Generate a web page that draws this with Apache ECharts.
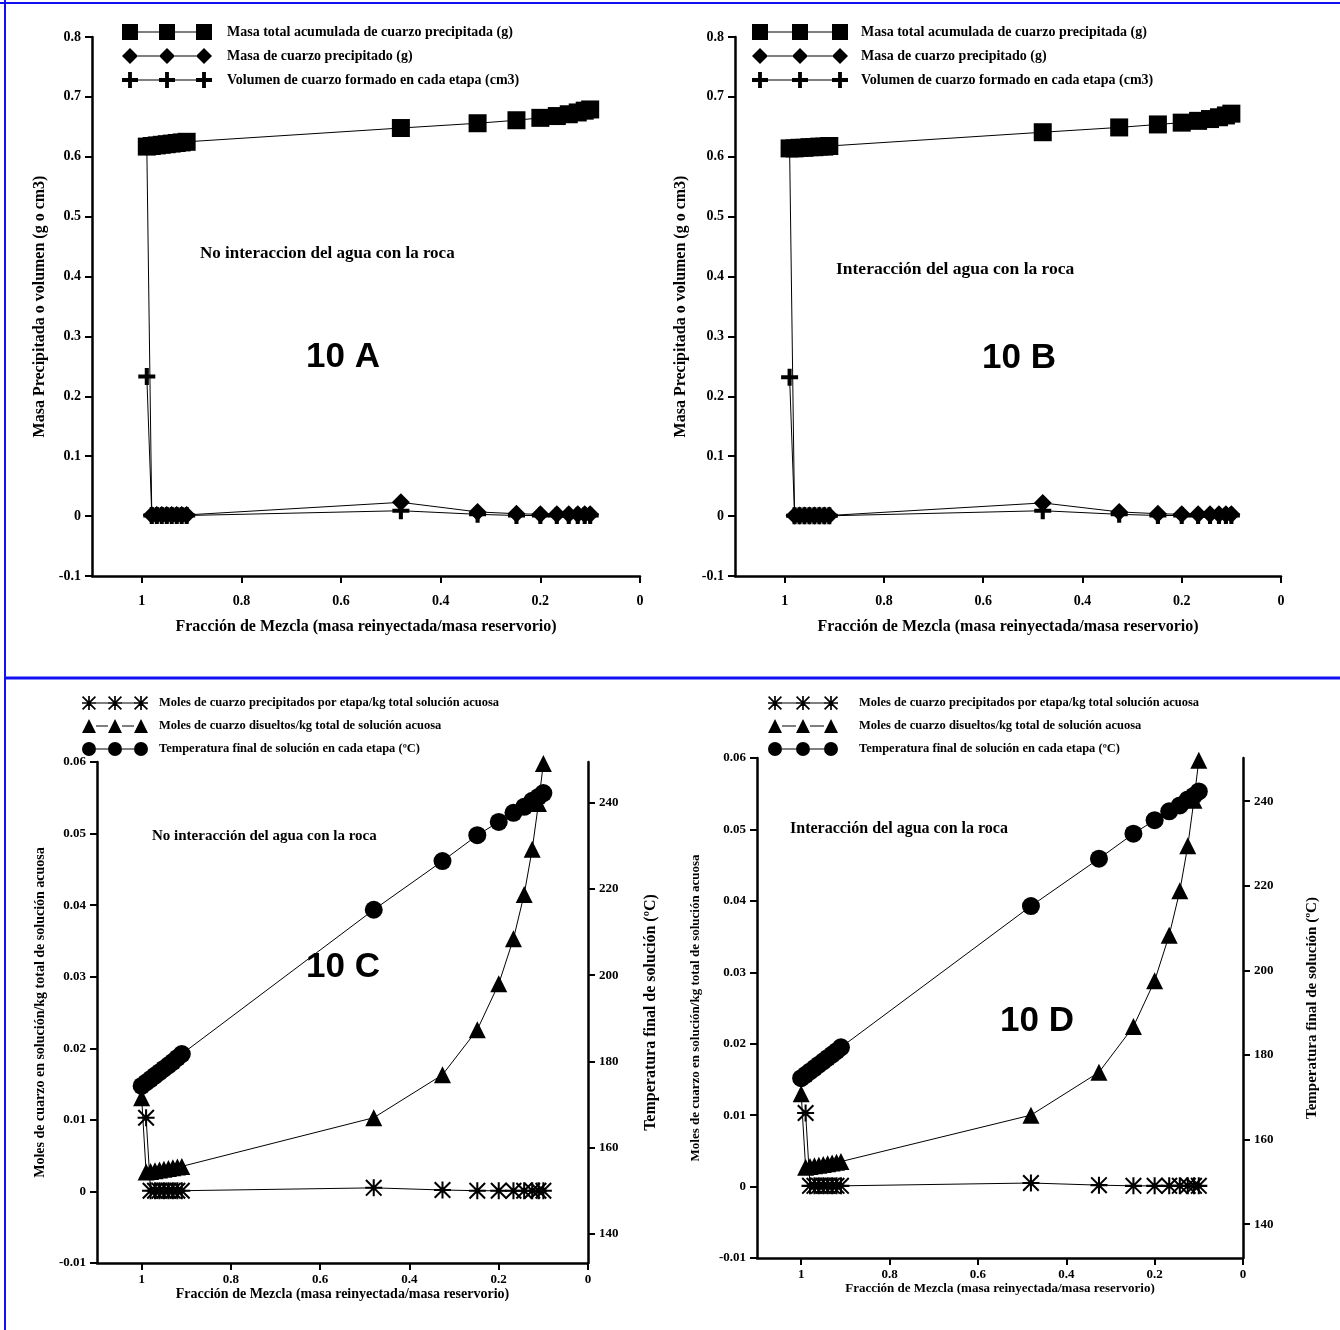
<!DOCTYPE html>
<html>
<head>
<meta charset="utf-8">
<script src="https://cdn.jsdelivr.net/npm/echarts@6/dist/echarts.min.js"></script>
<style>
html, body { margin: 0; padding: 0; background: #fff; }
#main { width: 1340px; height: 1330px; }
</style>
</head>
<body>
<div id="main"></div>
<script>
// fraccion de mezcla (eje x invertido): etapas de precipitacion y etapas con el estado inicial
var fracEtapas = [0.99, 0.98, 0.97, 0.96, 0.95, 0.94, 0.93, 0.92, 0.91, 0.48, 0.326, 0.248, 0.2, 0.167, 0.143, 0.125, 0.111, 0.1];
var fracInicio = [1.0, 0.99, 0.98, 0.97, 0.96, 0.95, 0.94, 0.93, 0.92, 0.91, 0.48, 0.326, 0.248, 0.2, 0.167, 0.143, 0.125, 0.111, 0.1];

// 10 A - no interaccion
var masaTotalA = [0.617, 0.618, 0.619, 0.620, 0.621, 0.622, 0.623, 0.624, 0.625, 0.648, 0.656, 0.661, 0.665, 0.668, 0.671, 0.674, 0.677, 0.679];
var masaEtapaA = [0.617, 0.002, 0.002, 0.002, 0.002, 0.002, 0.002, 0.002, 0.002, 0.023, 0.007, 0.004, 0.003, 0.003, 0.003, 0.003, 0.003, 0.003];
var volumenA   = [0.233, 0.001, 0.001, 0.001, 0.001, 0.001, 0.001, 0.001, 0.001, 0.009, 0.003, 0.001, 0.001, 0.001, 0.001, 0.001, 0.001, 0.001];

// 10 B - interaccion
var masaTotalB = [0.614, 0.614, 0.615, 0.615, 0.616, 0.616, 0.617, 0.617, 0.618, 0.641, 0.649, 0.654, 0.657, 0.660, 0.663, 0.666, 0.669, 0.672];
var masaEtapaB = [0.614, 0.001, 0.001, 0.001, 0.001, 0.001, 0.001, 0.001, 0.001, 0.022, 0.007, 0.004, 0.003, 0.003, 0.003, 0.003, 0.003, 0.003];
var volumenB   = [0.232, 0.0005, 0.0005, 0.0005, 0.0005, 0.0005, 0.0005, 0.0005, 0.0005, 0.009, 0.003, 0.001, 0.001, 0.001, 0.001, 0.001, 0.001, 0.001];

// 10 C - no interaccion
var precipC    = [0.0103, 0.0001, 0.0001, 0.0001, 0.0001, 0.0001, 0.0001, 0.0001, 0.0001, 0.0005, 0.0002, 0.0001, 0.0001, 0.0001, 0.0001, 0.0001, 0.0001, 0.0001];
var disueltosC = [0.0131, 0.0027, 0.0028, 0.0029, 0.0030, 0.0031, 0.0032, 0.0033, 0.0034, 0.0035, 0.0103, 0.0163, 0.0226, 0.0290, 0.0353, 0.0415, 0.0478, 0.0542, 0.0598];
var tempC      = [174.3, 175.1, 175.9, 176.7, 177.5, 178.3, 179.1, 179.9, 180.8, 181.7, 215.2, 226.5, 232.5, 235.6, 237.7, 239.1, 240.5, 241.4, 242.3];

// 10 D - interaccion
var precipD    = [0.0103, 0.0001, 0.0001, 0.0001, 0.0001, 0.0001, 0.0001, 0.0001, 0.0001, 0.0005, 0.0002, 0.0001, 0.0001, 0.0001, 0.0001, 0.0001, 0.0001, 0.0001];
var disueltosD = [0.0130, 0.0027, 0.0028, 0.0029, 0.0030, 0.0031, 0.0032, 0.0033, 0.0034, 0.0035, 0.0100, 0.0160, 0.0224, 0.0288, 0.0352, 0.0414, 0.0477, 0.0541, 0.0597];
var tempD      = [174.5, 175.3, 176.1, 176.9, 177.7, 178.5, 179.3, 180.1, 180.9, 181.8, 215.2, 226.4, 232.3, 235.5, 237.6, 239.0, 240.4, 241.3, 242.3];

var ticksTemp = [140, 160, 180, 200, 220, 240];

var nomTotal = 'Masa total acumulada de cuarzo precipitada (g)';
var nomMasa = 'Masa de cuarzo precipitado (g)';
var nomVol = 'Volumen de cuarzo formado en cada etapa (cm3)';
var nomPrecip = 'Moles de cuarzo precipitados por etapa/kg total solución acuosa';
var nomDis = 'Moles de cuarzo disueltos/kg total de solución acuosa';
var nomTemp = 'Temperatura final de solución en cada etapa (ºC)';
var nomX = 'Fracción de Mezcla (masa reinyectada/masa reservorio)';

var SERIF = '"Liberation Serif", "Times New Roman", serif';
var SANS = '"Liberation Sans", Arial, sans-serif';

// formas para simbolos (centro cx, cy, tamaño s)
var formas = {
	cuadro: function (cx, cy, s) {
		return 'M' + (cx - s / 2) + ' ' + (cy - s / 2) + 'H' + (cx + s / 2) + 'V' + (cy + s / 2) + 'H' + (cx - s / 2) + 'Z';
	},
	rombo: function (cx, cy, s) {
		return 'M' + cx + ' ' + (cy - s / 2) + 'L' + (cx + s / 2) + ' ' + cy + 'L' + cx + ' ' + (cy + s / 2) + 'L' + (cx - s / 2) + ' ' + cy + 'Z';
	},
	cruz: function (cx, cy, s) {
		var h = s / 2, t = s * 0.12;
		return 'M' + (cx - t) + ' ' + (cy - h) + 'H' + (cx + t) + 'V' + (cy - t) + 'H' + (cx + h) + 'V' + (cy + t) + 'H' + (cx + t) +
			'V' + (cy + h) + 'H' + (cx - t) + 'V' + (cy + t) + 'H' + (cx - h) + 'V' + (cy - t) + 'H' + (cx - t) + 'Z';
	},
	triangulo: function (cx, cy, s) {
		return 'M' + cx + ' ' + (cy - s / 2) + 'L' + (cx + s / 2) + ' ' + (cy + s / 2) + 'L' + (cx - s / 2) + ' ' + (cy + s / 2) + 'Z';
	},
	circulo: function (cx, cy, s) {
		var r = s / 2;
		return 'M' + (cx - r) + ' ' + cy + 'A' + r + ' ' + r + ' 0 1 1 ' + (cx + r) + ' ' + cy + 'A' + r + ' ' + r + ' 0 1 1 ' + (cx - r) + ' ' + cy + 'Z';
	},
	asterisco: function (cx, cy, s) {
		var h = s / 2, t = s * 0.06, d = t * 1.4;
		return 'M' + (cx - t) + ' ' + (cy - h) + 'H' + (cx + t) + 'V' + (cy + h) + 'H' + (cx - t) + 'Z' +
			'M' + (cx - h) + ' ' + (cy - t) + 'H' + (cx + h) + 'V' + (cy + t) + 'H' + (cx - h) + 'Z' +
			'M' + (cx - h + d) + ' ' + (cy - h) + 'L' + (cx + h) + ' ' + (cy + h - d) + 'L' + (cx + h - d) + ' ' + (cy + h) + 'L' + (cx - h) + ' ' + (cy - h + d) + 'Z' +
			'M' + (cx + h - d) + ' ' + (cy - h) + 'L' + (cx + h) + ' ' + (cy - h + d) + 'L' + (cx - h + d) + ' ' + (cy + h) + 'L' + (cx - h) + ' ' + (cy + h - d) + 'Z';
	}
};

function simbolo(forma) {
	return 'path://' + formas[forma](10, 10, 20);
}

// icono de leyenda: simbolo - linea - simbolo - linea - simbolo
function iconoLeyenda(forma, w, h) {
	var p = '';
	var xs = [h / 2, w / 2, w - h / 2];
	for (var i = 0; i < 3; i++) {
		p += formas[forma](xs[i], h / 2, h);
		if (i < 2) {
			p += 'M' + (xs[i] + h / 2) + ' ' + (h / 2 - 0.6) + 'H' + (xs[i + 1] - h / 2) + 'V' + (h / 2 + 0.6) + 'H' + (xs[i] + h / 2) + 'Z';
		}
	}
	return 'path://' + p;
}

function leyenda(left, top, items, w, h, gap, fontSize, pad) {
	return {
		orient: 'vertical',
		left: left,
		top: top,
		itemWidth: w,
		itemHeight: h,
		itemGap: gap,
		selectedMode: false,
		padding: 0,
		textStyle: { fontFamily: SERIF, fontWeight: 'bold', fontSize: fontSize, color: '#000', padding: [0, 0, 0, pad] },
		data: items.map(function (it) {
			return { name: it[0], icon: iconoLeyenda(it[1], w, h) };
		})
	};
}

function serie(name, xs, ys, forma, size, xi, yi) {
	return {
		type: 'line',
		name: name,
		xAxisIndex: xi,
		yAxisIndex: yi,
		data: xs.map(function (x, i) { return [x, ys[i]]; }),
		symbol: simbolo(forma),
		symbolSize: size,
		lineStyle: { color: '#000', width: 1 },
		itemStyle: { color: '#000' },
		emphasis: { disabled: true },
		silent: true
	};
}

var lineaEje = { show: true, onZero: false, lineStyle: { color: '#000', width: 2.5 } };

function ejeX(grid, fs, margin, nameFs, nameGap) {
	return {
		type: 'value', gridIndex: grid, inverse: true, min: 0, max: 1.1, interval: 0.2,
		name: nomX, nameLocation: 'middle', nameGap: nameGap,
		nameTextStyle: { fontFamily: SERIF, fontWeight: 'bold', fontSize: nameFs, color: '#000' },
		axisLine: lineaEje,
		axisTick: { show: true, length: 7, lineStyle: { color: '#000', width: 2 } },
		axisLabel: { fontFamily: SERIF, fontWeight: 'bold', fontSize: fs, color: '#000', margin: margin, showMaxLabel: false },
		splitLine: { show: false }
	};
}

function ejeY(grid, min, max, interval, name, nameFs, nameGap, fs) {
	return {
		type: 'value', gridIndex: grid, min: min, max: max, interval: interval,
		name: name, nameLocation: 'middle', nameGap: nameGap,
		nameTextStyle: { fontFamily: SERIF, fontWeight: 'bold', fontSize: nameFs, color: '#000' },
		axisLine: lineaEje,
		axisTick: { show: true, length: 7, lineStyle: { color: '#000', width: 2 } },
		axisLabel: { fontFamily: SERIF, fontWeight: 'bold', fontSize: fs, color: '#000', margin: 11 },
		splitLine: { show: false }
	};
}

function ejeTemp(grid, min, max, nameFs, nameGap, weight) {
	return {
		type: 'value', gridIndex: grid, position: 'right', min: min, max: max,
		name: 'Temperatura final de solución (ºC)', nameLocation: 'middle', nameGap: nameGap,
		nameTextStyle: { fontFamily: SERIF, fontWeight: weight, fontSize: nameFs, color: '#000' },
		axisLine: lineaEje,
		axisTick: { show: true, length: 7, customValues: ticksTemp, lineStyle: { color: '#000', width: 2 } },
		axisLabel: { fontFamily: SERIF, fontWeight: 'bold', fontSize: 13, color: '#000', margin: 11, customValues: ticksTemp },
		splitLine: { show: false }
	};
}

function texto(left, top, txt, font) {
	return { type: 'text', left: left, top: top, silent: true, style: { text: txt, font: font, fill: '#000' } };
}

var azul = '#1010f0';

var option = {
	backgroundColor: '#fff',
	animation: false,
	grid: [
		{ left: 92, top: 37, width: 548, height: 539 },
		{ left: 735, top: 37, width: 546, height: 539 },
		{ left: 97, top: 762, width: 491, height: 501 },
		{ left: 757, top: 758, width: 486, height: 500 }
	],
	xAxis: [
		ejeX(0, 14, 18, 16, 43),
		ejeX(1, 14, 18, 16, 43),
		ejeX(2, 13, 10, 14, 22),
		ejeX(3, 13, 10, 13, 21)
	],
	yAxis: [
		ejeY(0, -0.1, 0.8, 0.1, 'Masa Precipitada o volumen (g o cm3)', 16, 44, 14),
		ejeY(1, -0.1, 0.8, 0.1, 'Masa Precipitada o volumen (g o cm3)', 16, 46, 14),
		ejeY(2, -0.01, 0.06, 0.01, 'Moles de cuarzo en solución/kg total de solución acuosa', 14, 50, 13),
		ejeTemp(2, 133.2, 249.5, 16, 55, 'bold'),
		ejeY(3, -0.01, 0.06, 0.01, 'Moles de cuarzo en solución/kg total de solución acuosa', 13, 55, 13),
		ejeTemp(3, 132, 250.2, 15, 62, 'bold')
	],
	legend: [
		leyenda(122, 24, [[nomTotal, 'cuadro'], [nomMasa, 'rombo'], [nomVol, 'cruz']], 90, 16, 8, 14, 10),
		leyenda(752, 24, [[nomTotal, 'cuadro'], [nomMasa, 'rombo'], [nomVol, 'cruz']], 96, 16, 8, 14, 8),
		leyenda(82, 696, [[nomPrecip, 'asterisco'], [nomDis, 'triangulo'], [nomTemp, 'circulo']], 66, 14, 9, 12.5, 6),
		leyenda(768, 696, [[nomPrecip, 'asterisco'], [nomDis, 'triangulo'], [nomTemp, 'circulo']], 70, 14, 9, 12.5, 16)
	],
	series: [
		serie(nomVol, fracEtapas, volumenA, 'cruz', 17, 0, 0),
		serie(nomMasa, fracEtapas, masaEtapaA, 'rombo', 18, 0, 0),
		serie(nomTotal, fracEtapas, masaTotalA, 'cuadro', 18, 0, 0),

		serie(nomVol, fracEtapas, volumenB, 'cruz', 17, 1, 1),
		serie(nomMasa, fracEtapas, masaEtapaB, 'rombo', 18, 1, 1),
		serie(nomTotal, fracEtapas, masaTotalB, 'cuadro', 18, 1, 1),

		serie(nomPrecip, fracEtapas, precipC, 'asterisco', 17, 2, 2),
		serie(nomDis, fracInicio, disueltosC, 'triangulo', 17, 2, 2),
		serie(nomTemp, fracInicio, tempC, 'circulo', 18, 2, 3),

		serie(nomPrecip, fracEtapas, precipD, 'asterisco', 17, 3, 4),
		serie(nomDis, fracInicio, disueltosD, 'triangulo', 17, 3, 4),
		serie(nomTemp, fracInicio, tempD, 'circulo', 18, 3, 5)
	],
	graphic: [
		{ type: 'line', silent: true, shape: { x1: 0, y1: 3, x2: 1340, y2: 3 }, style: { stroke: azul, lineWidth: 2 } },
		{ type: 'line', silent: true, shape: { x1: 5, y1: 0, x2: 5, y2: 1330 }, style: { stroke: azul, lineWidth: 2 } },
		{ type: 'line', silent: true, shape: { x1: 5, y1: 678, x2: 1340, y2: 678 }, style: { stroke: azul, lineWidth: 3 } },

		texto(200, 245, 'No interaccion del agua con la roca', 'bold 17px ' + SERIF),
		texto(306, 340, '10 A', 'bold 35px ' + SANS),
		texto(836, 260, 'Interacción del agua con la roca', 'bold 17.5px ' + SERIF),
		texto(982, 341, '10 B', 'bold 35px ' + SANS),
		texto(152, 829, 'No interacción del agua con la roca', 'bold 15px ' + SERIF),
		texto(306, 950, '10 C', 'bold 35px ' + SANS),
		texto(790, 821, 'Interacción del agua con la roca', 'bold 16px ' + SERIF),
		texto(1000, 1004, '10 D', 'bold 35px ' + SANS)
	]
};

var chart = echarts.init(document.getElementById('main'));
chart.setOption(option);
</script>
</body>
</html>
